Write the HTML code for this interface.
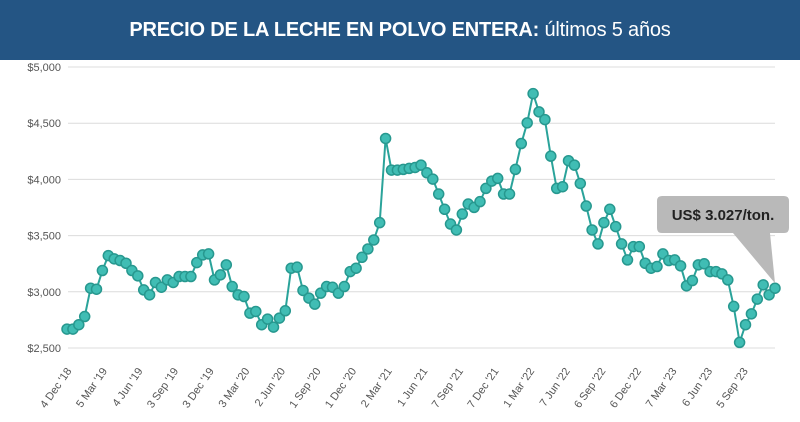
<!DOCTYPE html>
<html><head><meta charset="utf-8"><style>
body{margin:0;width:800px;height:422px;background:#fff;overflow:hidden;font-family:"Liberation Sans",sans-serif}
#bar{position:absolute;left:0;top:0;width:800px;height:60px;background:#245584;color:#fff;font-size:20px;text-align:center;line-height:60px;letter-spacing:-0.2px}
svg{position:absolute;left:0;top:0}
</style></head><body>
<div id="bar"><b>PRECIO DE LA LECHE EN POLVO ENTERA:</b> <span>últimos 5 años</span></div>
<svg id="chart" width="800" height="422"></svg>
<script>
const values=[2668,2668,2707,2780,3032,3023,3189,3322,3293,3278,3254,3189,3142,3017,2973,3083,3041,3106,3083,3136,3136,3136,3260,3328,3337,3106,3151,3240,3047,2973,2958,2810,2825,2707,2757,2686,2766,2831,3210,3219,3012,2944,2890,2988,3047,3041,2988,3047,3180,3210,3307,3381,3461,3615,4364,4083,4083,4089,4098,4106,4127,4059,4003,3870,3734,3603,3550,3692,3781,3751,3802,3920,3985,4009,3870,3870,4089,4319,4503,4763,4601,4532,4207,3920,3935,4166,4127,3964,3763,3550,3426,3615,3734,3580,3426,3284,3402,3402,3254,3210,3225,3337,3278,3284,3231,3053,3100,3240,3249,3180,3180,3160,3106,2870,2550,2707,2804,2935,3062,2973,3032];
const xLabels=["4 Dec '18","5 Mar '19","4 Jun '19","3 Sep '19","3 Dec '19","3 Mar '20","2 Jun '20","1 Sep '20","1 Dec '20","2 Mar '21","1 Jun '21","7 Sep '21","7 Dec '21","1 Mar '22","7 Jun '22","6 Sep '22","6 Dec '22","7 Mar '23","6 Jun '23","5 Sep '23"];
const yTicks=[2500,3000,3500,4000,4500,5000];
const yTickLabels=["$2,500","$3,000","$3,500","$4,000","$4,500","$5,000"];
const svg=document.getElementById('chart'),NS='http://www.w3.org/2000/svg';
const X0=67,X1=775,Y0=348,Y1=67;
const x=i=>X0+(X1-X0)*i/(values.length-1);
const y=v=>Y0-(v-2500)/2500*(Y0-Y1);
const lx=i=>72+35.6*i;
function mk(t,a){const e=document.createElementNS(NS,t);for(const k in a)e.setAttribute(k,a[k]);svg.appendChild(e);return e;}
yTicks.forEach((t,i)=>{
 const g=mk('line',{x1:68,x2:775,y1:y(t),y2:y(t),stroke:'#dcdcdc','stroke-width':1});
 
 
 const l=mk('text',{x:61,y:y(t)+4,'text-anchor':'end','font-size':11,fill:'#555'});
 l.textContent=yTickLabels[i];
 
 
});
xLabels.forEach((s,i)=>{
 const t=mk('text',{x:0,y:0,'text-anchor':'end','font-size':11,fill:'#555',transform:`translate(${lx(i)},${371}) rotate(-55)`});
 t.textContent=s;
 
 
});
const line=mk('polyline',{points:values.map((v,i)=>x(i)+','+y(v)).join(' '),fill:'none',stroke:'#2aa39a','stroke-width':2});


values.forEach((v,i)=>{
 const c=mk('circle',{cx:x(i),cy:y(v),r:5,fill:'#40bdb4',stroke:'#27988f','stroke-width':1.5});
 
 
});
const lv=values[values.length-1],px=x(values.length-1),py=y(lv);
const call=mk('path',{d:`M662,196 H784 Q789,196 789,201 V228 Q789,233 784,233 H770 L${px},${py-5} L733,233 H662 Q657,233 657,228 V201 Q657,196 662,196 Z`,fill:'#b9b9b9'});


const ct=mk('text',{x:723,y:220,'text-anchor':'middle','font-size':15,'font-weight':'bold',fill:'#222'});
ct.textContent='US$ 3.027/ton.';


</script>
</body></html>
